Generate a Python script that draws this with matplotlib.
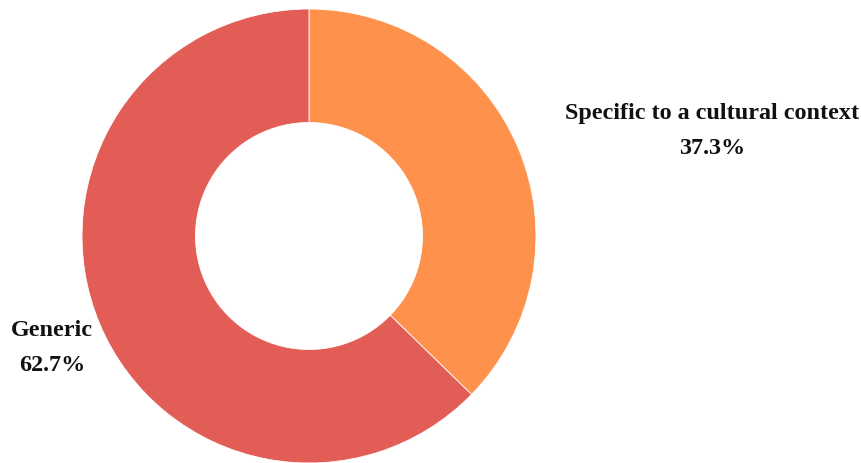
import matplotlib
matplotlib.use("Agg")
import matplotlib.pyplot as plt

categories = ["Specific to a cultural context", "Generic"]
shares = [37.3, 62.7]
colors = ["#FE924C", "#E35D57"]

W, H = 862, 464
fig = plt.figure(figsize=(W / 100, H / 100), dpi=100)
ax = fig.add_axes([0, 0, 1, 1])

cx, cy, r = 309, H - 237, 227
ax.pie(shares, colors=colors, startangle=90, counterclock=False,
       center=(cx, cy), radius=r, frame=True,
       wedgeprops=dict(width=r * 0.5, edgecolor="white", linewidth=0.6))
ax.set_xlim(0, W)
ax.set_ylim(0, H)
ax.set_aspect("equal")
ax.axis("off")

font = dict(family="Liberation Serif", weight="bold", size=17.4,
            ha="center", va="center", color="#111111")
label_pos = [(712, 114), (52, 331)]
for name, val, (x, y) in zip(categories, shares, label_pos):
    ax.text(x, H - y, name, **font)
    ax.text(x, H - (y + 35), f"{val:.1f}%", **font)

fig.savefig("out.png", dpi=100)
